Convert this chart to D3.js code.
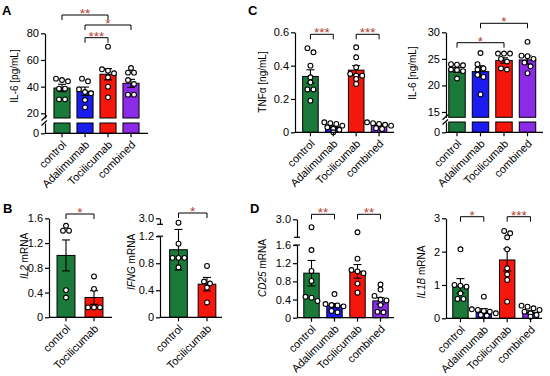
<!DOCTYPE html>
<html>
<head>
<meta charset="utf-8">
<script src="https://cdn.jsdelivr.net/npm/d3@7"></script>
<style>
  body { margin: 0; background: #fff; }
  svg { font-family: "Liberation Sans", Arial, sans-serif; }
</style>
</head>
<body>
<div id="fig"></div>
<script>

var groups4 = ["control", "Adalimumab", "Tocilicumab", "combined"];
var groups2 = ["control", "Tocilicumab"];

// A - IL-6 [pg/mL]
var il6pgMean = [39, 36.5, 49.3, 42.5];
var il6pgSem = [2.8, 3.2, 4.2, 3.0];
var il6pgPts = [
	[46, 45, 44, 38.5, 38.5, 30.5, 30.5],
	[46, 44, 38, 36, 35, 30, 24.5],
	[70, 53, 52, 50, 47, 40, 32],
	[54, 50.5, 50.5, 45, 42, 34, 34]
];
var il6pgSig = [[0, 2, "**"], [1, 3, "*"], [1, 2, "***"]];

// C - TNFa [ng/mL]
var tnfMean = [0.335, 0.032, 0.373, 0.042];
var tnfSem = [0.04, 0.007, 0.027, 0.006];
var tnfPts = [
	[0.505, 0.48, 0.40, 0.33, 0.30, 0.257, 0.257, 0.19],
	[0.06, 0.055, 0.05, 0.04, 0.03, 0.02, 0.015, 0.0],
	[0.51, 0.45, 0.39, 0.35, 0.34, 0.34, 0.32, 0.29],
	[0.06, 0.055, 0.05, 0.045, 0.04, 0.025, 0.02]
];
var tnfSig = [[0, 1, "***"], [2, 3, "***"]];

// C - IL-6 [ng/mL]
var il6ngMean = [22.9, 22.6, 24.7, 24.8];
var il6ngSem = [0.45, 1.1, 0.5, 0.75];
var il6ngPts = [
	[24.0, 23.9, 23.8, 23.0, 22.9, 22.7, 21.3],
	[26.1, 24.0, 23.2, 23.0, 22.0, 21.6, 18.3],
	[26.0, 26.0, 26.0, 25.0, 24.5, 23.2, 23.0],
	[28.2, 25.6, 25.5, 25.0, 24.3, 23.6, 22.3]
];
var il6ngSig = [[0, 2, "*"], [1, 3, "*"]];

// B - IL2 / IFNG mRNA
var il2Mean = [1.0, 0.32];
var il2Sem = [0.25, 0.11];
var il2Pts = [[1.48, 1.40, 1.40, 0.44, 0.32], [0.66, 0.46, 0.16, 0.16, 0.16]];
var il2Sig = [[0, 1, "*"]];

var ifngMean = [1.0, 0.49];
var ifngSem = [0.3, 0.1];
var ifngPts = [[1.40, 1.09, 0.88, 0.88, 0.88, 0.74], [0.76, 0.53, 0.50, 0.44, 0.22]];
var ifngSig = [[0, 1, "*"]];

// D - CD25 / IL1B mRNA
var cd25Mean = [0.98, 0.27, 1.02, 0.37];
var cd25Sem = [0.28, 0.04, 0.15, 0.07];
var cd25Pts = [
	[2.56, 1.49, 1.03, 0.81, 0.46, 0.44, 0.37],
	[0.52, 0.30, 0.28, 0.27, 0.25, 0.15, 0.12],
	[2.28, 1.30, 1.05, 1.02, 0.98, 0.75, 0.55],
	[0.73, 0.62, 0.48, 0.40, 0.38, 0.28, 0.13, 0.12]
];
var cd25Sig = [[0, 1, "**"], [2, 3, "**"]];

var il1bMean = [0.97, 0.22, 1.75, 0.18];
var il1bSem = [0.22, 0.07, 0.33, 0.045];
var il1bPts = [
	[2.07, 1.0, 0.98, 0.95, 0.75, 0.58, 0.58],
	[0.65, 0.27, 0.25, 0.22, 0.2, 0.15, 0.1, 0.08],
	[2.62, 2.55, 2.43, 2.07, 1.5, 1.32, 1.15, 0.5],
	[0.38, 0.35, 0.3, 0.25, 0.2, 0.15, 0.1, 0.05]
];
var il1bSig = [[0, 1, "*"], [2, 3, "***"]];

var colors = {
	control: "#1b7a3a",
	Adalimumab: "#1c1cf0",
	Tocilicumab: "#f5170c",
	combined: "#8c2be6"
};
var starColor = "#b53a2e";
var R = 2.4;

var svg = d3.select("#fig").append("svg")
	.attr("width", 550)
	.attr("height", 376);

function yPick(segs, v) {
	var s = segs[0];
	for (var i = 1; i < segs.length; i++) if (v >= segs[i].d[0]) s = segs[i];
	return s.sc(v);
}

function drawPanel(L, groups, mean, sem, pts, sig) {
	var g = svg.append("g");
	L.segs.forEach(function(s) { s.sc = d3.scaleLinear().domain(s.d).range(s.r); });
	var y0 = L.segs[0].sc(0);

	var x = d3.scaleBand()
		.domain(groups)
		.range(L.xr)
		.paddingInner(L.pad)
		.paddingOuter(L.pad / 2);
	var bw = x.bandwidth();
	function cx(k) { return x(k) + bw / 2; }

	// bars (one piece per axis segment)
	groups.forEach(function(k, i) {
		L.segs.forEach(function(s, j) {
			var lo = j == 0 ? 0 : s.d[0];
			if (mean[i] <= lo) return;
			var next = L.segs[j + 1];
			var hi = (next && mean[i] >= next.d[0]) ? s.d[1] : mean[i];
			g.append("rect")
				.attr("x", x(k))
				.attr("y", s.sc(hi))
				.attr("width", bw)
				.attr("height", s.sc(lo) - s.sc(hi))
				.attr("fill", colors[k])
				.attr("stroke", "#000")
				.attr("stroke-width", 1);
		});
	});

	// error bars
	groups.forEach(function(k, i) {
		var c = cx(k),
			yt = yPick(L.segs, mean[i] + sem[i]),
			yb = yPick(L.segs, Math.max(0, mean[i] - sem[i]));
		g.append("line")
			.attr("x1", c).attr("x2", c).attr("y1", yt).attr("y2", yb)
			.attr("stroke", "#000").attr("stroke-width", 1.1);
		[yt, yb].forEach(function(yy) {
			g.append("line")
				.attr("x1", c - 4).attr("x2", c + 4).attr("y1", yy).attr("y2", yy)
				.attr("stroke", "#000").attr("stroke-width", 1.1);
		});
	});

	// scatter points, spread sideways in rows
	var step = 2 * R + 1.2;
	groups.forEach(function(k, i) {
		var ys = pts[i].map(function(v) { return yPick(L.segs, v); }).sort(d3.ascending);
		var rows = [], cur = null;
		ys.forEach(function(yy) {
			if (cur && yy - cur[0] < 2 * R * 0.95) cur.push(yy);
			else { cur = [yy]; rows.push(cur); }
		});
		var placed = [];
		rows.forEach(function(row) {
			var shifts = [0, step / 2, -step / 2], best = null;
			for (var s = 0; s < shifts.length && best === null; s++) {
				var cand = row.map(function(yy, j) { return [(j - (row.length - 1) / 2) * step + shifts[s], yy]; });
				var hit = cand.some(function(p) {
					return placed.some(function(q) { return Math.hypot(p[0] - q[0], p[1] - q[1]) < 2 * R; });
				});
				if (!hit) best = cand;
			}
			if (best === null) best = row.map(function(yy, j) { return [(j - (row.length - 1) / 2) * step, yy]; });
			placed = placed.concat(best);
		});
		placed.forEach(function(p) {
			g.append("circle")
				.attr("cx", cx(k) + p[0])
				.attr("cy", p[1])
				.attr("r", R)
				.attr("fill", "#fff")
				.attr("stroke", "#000")
				.attr("stroke-width", 1.1);
		});
	});

	// y axis segments
	L.segs.forEach(function(s) {
		var ax = g.append("g")
			.attr("transform", "translate(" + L.ax + ",0)")
			.call(d3.axisLeft(s.sc)
				.tickValues(s.ticks)
				.tickSize(4)
				.tickSizeOuter(0)
				.tickPadding(2)
				.tickFormat(function(v) { return v === 0 ? "0" : d3.format(L.fmt)(v); }));
		ax.attr("font-family", null).attr("font-size", 11);
		ax.selectAll("line, path").attr("stroke-width", 1.2);
	});

	// axis breaks
	for (var j = 0; j < L.segs.length - 1; j++) {
		[L.segs[j].r[1], L.segs[j + 1].r[0]].forEach(function(yy) {
			if (L.brk == "slash") {
				g.append("line")
					.attr("x1", L.ax - 3.5).attr("y1", yy + 2.5)
					.attr("x2", L.ax + 2).attr("y2", yy - 2.5)
					.attr("stroke", "#000").attr("stroke-width", 1.2);
			} else {
				g.append("line")
					.attr("x1", L.ax - 3).attr("y1", yy)
					.attr("x2", L.ax + 3).attr("y2", yy)
					.attr("stroke", "#000").attr("stroke-width", 1.2);
			}
		});
	}

	// x axis
	g.append("line")
		.attr("x1", L.ax).attr("x2", L.axEnd)
		.attr("y1", y0).attr("y2", y0)
		.attr("stroke", "#000").attr("stroke-width", 1.2);
	groups.forEach(function(k) {
		g.append("line")
			.attr("x1", cx(k)).attr("x2", cx(k))
			.attr("y1", y0).attr("y2", y0 + 4)
			.attr("stroke", "#000").attr("stroke-width", 1.2);
		g.append("text")
			.attr("transform", "translate(" + (cx(k) + 5) + "," + (y0 + 12) + ") rotate(-45)")
			.attr("text-anchor", "end")
			.style("font-size", "11px")
			.text(k);
	});

	// y title
	var t = g.append("text")
		.attr("transform", "translate(" + L.tx + "," + L.ty + ") rotate(-90)")
		.attr("text-anchor", "middle")
		.style("font-size", "10px");
	L.title.forEach(function(part) {
		t.append("tspan")
			.style("font-style", part[1] ? "italic" : "normal")
			.text(part[0]);
	});

	// significance brackets
	sig.forEach(function(s, n) {
		var x1 = cx(groups[s[0]]), x2 = cx(groups[s[1]]), yy = L.sigY[n];
		g.append("path")
			.attr("d", "M" + x1 + "," + (yy + 5) + "V" + yy + "H" + x2 + "V" + (yy + 5))
			.attr("fill", "none")
			.attr("stroke", "#000")
			.attr("stroke-width", 1);
		g.append("text")
			.attr("x", (x1 + x2) / 2)
			.attr("y", yy + 3)
			.attr("text-anchor", "middle")
			.style("font-size", "13.5px")
			.attr("fill", starColor)
			.text(s[2]);
	});
}

drawPanel({
	ax: 45, axEnd: 148, xr: [50.5, 142.5], pad: 0.3,
	segs: [{d: [0, 7.5], r: [133.3, 123], ticks: [0]},
	       {d: [16.5, 80], r: [118, 33.3], ticks: [20, 40, 60, 80]}],
	brk: "slash", fmt: "d",
	title: [["IL-6 [pg/mL]", false]], tx: 18, ty: 76,
	sigY: [15, 25, 37.7]
}, groups4, il6pgMean, il6pgSem, il6pgPts, il6pgSig);

drawPanel({
	ax: 295, axEnd: 394, xr: [299, 390.5], pad: 0.32,
	segs: [{d: [0, 0.6], r: [132.3, 32.3], ticks: [0, 0.2, 0.4, 0.6]}],
	fmt: ".1f",
	title: [["TNFα [ng/mL]", false]], tx: 266, ty: 82,
	sigY: [34.3, 34.3]
}, groups4, tnfMean, tnfSem, tnfPts, tnfSig);

drawPanel({
	ax: 446, axEnd: 543, xr: [445.25, 539.25], pad: 0.3,
	segs: [{d: [0, 2], r: [132.3, 122], ticks: [0]},
	       {d: [14, 30], r: [117.3, 32.3], ticks: [15, 20, 25, 30]}],
	brk: "slash", fmt: "d",
	title: [["IL-6 [ng/mL]", false]], tx: 416, ty: 73,
	sigY: [42.7, 23.3]
}, groups4, il6ngMean, il6ngSem, il6ngPts, il6ngSig);

drawPanel({
	ax: 49, axEnd: 112, xr: [52, 108], pad: 0.36,
	segs: [{d: [0, 1.6], r: [317.3, 218.3], ticks: [0, 0.4, 0.8, 1.2, 1.6]}],
	fmt: ".1f",
	title: [["IL2", true], [" mRNA", false]], tx: 28, ty: 256,
	sigY: [214]
}, groups2, il2Mean, il2Sem, il2Pts, il2Sig);

drawPanel({
	ax: 160, axEnd: 222, xr: [164.25, 221.25], pad: 0.38,
	segs: [{d: [0, 1.2], r: [317.3, 236.2], ticks: [0, 0.4, 0.8, 1.2]},
	       {d: [2, 3], r: [224.3, 218.3], ticks: [3]}],
	brk: "cap", fmt: ".1f",
	title: [["IFNG", true], [" mRNA", false]], tx: 135, ty: 262,
	sigY: [213]
}, groups2, ifngMean, ifngSem, ifngPts, ifngSig);

drawPanel({
	ax: 297, axEnd: 394, xr: [300, 392], pad: 0.33,
	segs: [{d: [0, 1.6], r: [317.7, 245], ticks: [0, 0.4, 0.8, 1.2, 1.6]},
	       {d: [2, 3], r: [237.3, 219.3], ticks: [3]}],
	brk: "cap", fmt: ".1f",
	title: [["CD25", true], [" mRNA", false]], tx: 266, ty: 268,
	sigY: [214.3, 214.3]
}, groups4, cd25Mean, cd25Sem, cd25Pts, cd25Sig);

drawPanel({
	ax: 446, axEnd: 542, xr: [448.8, 542.2], pad: 0.34,
	segs: [{d: [0, 3], r: [318.3, 218.3], ticks: [0, 1, 2, 3]}],
	fmt: "d",
	title: [["IL1B", true], [" mRNA", false]], tx: 425, ty: 272,
	sigY: [216.7, 216.7]
}, groups4, il1bMean, il1bSem, il1bPts, il1bSig);

// panel letters
[["A", 2, 15], ["B", 3, 213], ["C", 248, 15], ["D", 250, 213]].forEach(function(p) {
	svg.append("text")
		.attr("x", p[1])
		.attr("y", p[2])
		.style("font-size", "13px")
		.style("font-weight", "bold")
		.text(p[0]);
});

</script>
</body>
</html>
